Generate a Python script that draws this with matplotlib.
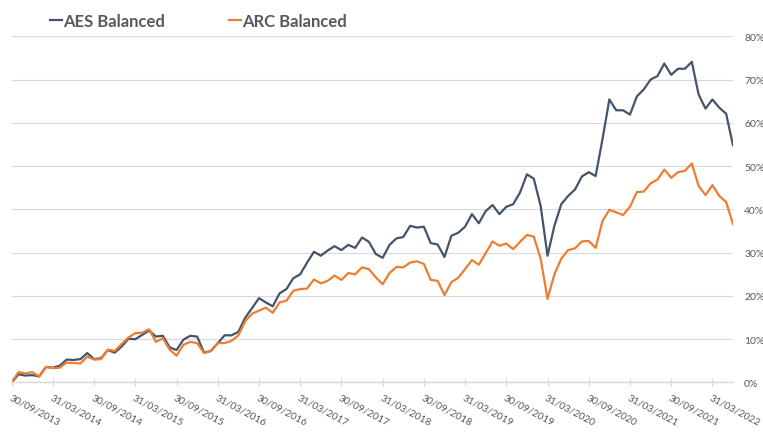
import matplotlib
matplotlib.use("Agg")
import matplotlib.pyplot as plt
import pandas as pd

plt.rcParams['font.family'] = ['Lato', 'DejaVu Sans']

# monthly cumulative returns (%), 30/09/2013 .. 30/06/2022
aes = [0, 1.9, 1.6, 1.7, 1.4, 3.6, 3.4, 3.9, 5.3, 5.2, 5.4, 6.8, 5.4, 5.6, 7.5, 6.9,
       8.3, 10.1, 10.0, 11.0, 12.0, 10.6, 10.8, 8.1, 7.5, 9.9, 10.8, 10.6, 6.9, 7.3,
       9.1, 10.9, 10.9, 11.7, 15.0, 17.2, 19.5, 18.5, 17.6, 20.6, 21.6, 24.1, 25.0,
       27.7, 30.2, 29.3, 30.5, 31.5, 30.6, 31.8, 31.1, 33.5, 32.5, 29.7, 28.8, 31.8,
       33.3, 33.6, 36.2, 35.8, 36.0, 32.2, 31.9, 29.0, 33.9, 34.6, 36.0, 38.9, 36.8,
       39.6, 41.0, 38.9, 40.6, 41.2, 43.9, 48.1, 47.1, 40.8, 29.3, 36.2, 41.2, 43.1,
       44.6, 47.6, 48.6, 47.7, 56.2, 65.4, 62.9, 62.9, 61.9, 66.1, 67.7, 70.0, 70.8,
       73.7, 71.1, 72.5, 72.5, 74.1, 66.5, 63.3, 65.4, 63.5, 62.1, 54.8]
arc = [0, 2.4, 2.1, 2.4, 1.4, 3.6, 3.3, 3.4, 4.6, 4.5, 4.4, 6.0, 5.3, 5.4, 7.6, 7.3,
       8.9, 10.4, 11.4, 11.5, 12.3, 9.4, 10.2, 7.6, 6.2, 8.7, 9.4, 9.1, 6.8, 7.3,
       9.1, 9.1, 9.6, 10.9, 14.2, 15.9, 16.6, 17.3, 16.1, 18.5, 18.9, 21.2, 21.6,
       21.7, 23.8, 22.9, 23.5, 24.7, 23.7, 25.3, 25.0, 26.6, 26.2, 24.3, 22.7, 25.3,
       26.7, 26.6, 27.7, 28.0, 27.4, 23.7, 23.5, 20.2, 23.2, 24.2, 26.2, 28.3, 27.2,
       29.9, 32.6, 31.6, 32.1, 30.8, 32.5, 34.1, 33.7, 28.6, 19.3, 25.0, 28.6, 30.6,
       31.0, 32.6, 32.7, 31.1, 37.3, 39.9, 39.3, 38.7, 40.6, 44.0, 44.1, 46.0, 46.9,
       49.2, 47.3, 48.6, 48.9, 50.6, 45.4, 43.3, 45.6, 43.1, 41.7, 36.6]
dates = pd.date_range("2013-09-30", periods=len(aes), freq="ME")
x = list(range(len(aes)))

fig = plt.figure(figsize=(7.63, 4.35), dpi=100)
ax = fig.add_axes([0.0153, 0.1184, 0.9454, 0.7959])

ax.plot(x, aes, color="#44546A", lw=1.6, label="AES Balanced")
ax.plot(x, arc, color="#ED7D31", lw=1.6, label="ARC Balanced")

ax.set_xlim(0, len(aes) - 1)
ax.set_ylim(0, 80)
ax.set_yticks(range(0, 81, 10))
ax.set_yticklabels([f"{v}%" for v in range(0, 81, 10)])
ax.yaxis.tick_right()
ax.tick_params(axis="y", length=0, pad=8, labelsize=7.5, labelcolor="#595959")
ax.grid(axis="y", color="#D9D9D9", lw=0.8)
ax.set_axisbelow(True)

ticks = x[::6]
ax.set_xticks(ticks)
ax.set_xticklabels([dates[i].strftime("%d/%m/%Y") for i in ticks], rotation=-28,
                   ha="left", va="top", rotation_mode="anchor")
ax.tick_params(axis="x", direction="inout", length=6, color="#D9D9D9", pad=4,
               labelsize=7.3, labelcolor="#595959")

for s in ["top", "left", "right"]:
    ax.spines[s].set_visible(False)
ax.spines["bottom"].set_color("#D9D9D9")
ax.spines["bottom"].set_linewidth(1)

leg = fig.legend(loc="center left", bbox_to_anchor=(0.0655, 0.949), ncol=2,
                 frameon=False, borderpad=0, borderaxespad=0, handlelength=0.72,
                 handletextpad=0.08, columnspacing=3.8,
                 prop={"size": 12, "weight": "bold"})
for t in leg.get_texts():
    t.set_color("#595959")

fig.savefig("out.png", dpi=100)
